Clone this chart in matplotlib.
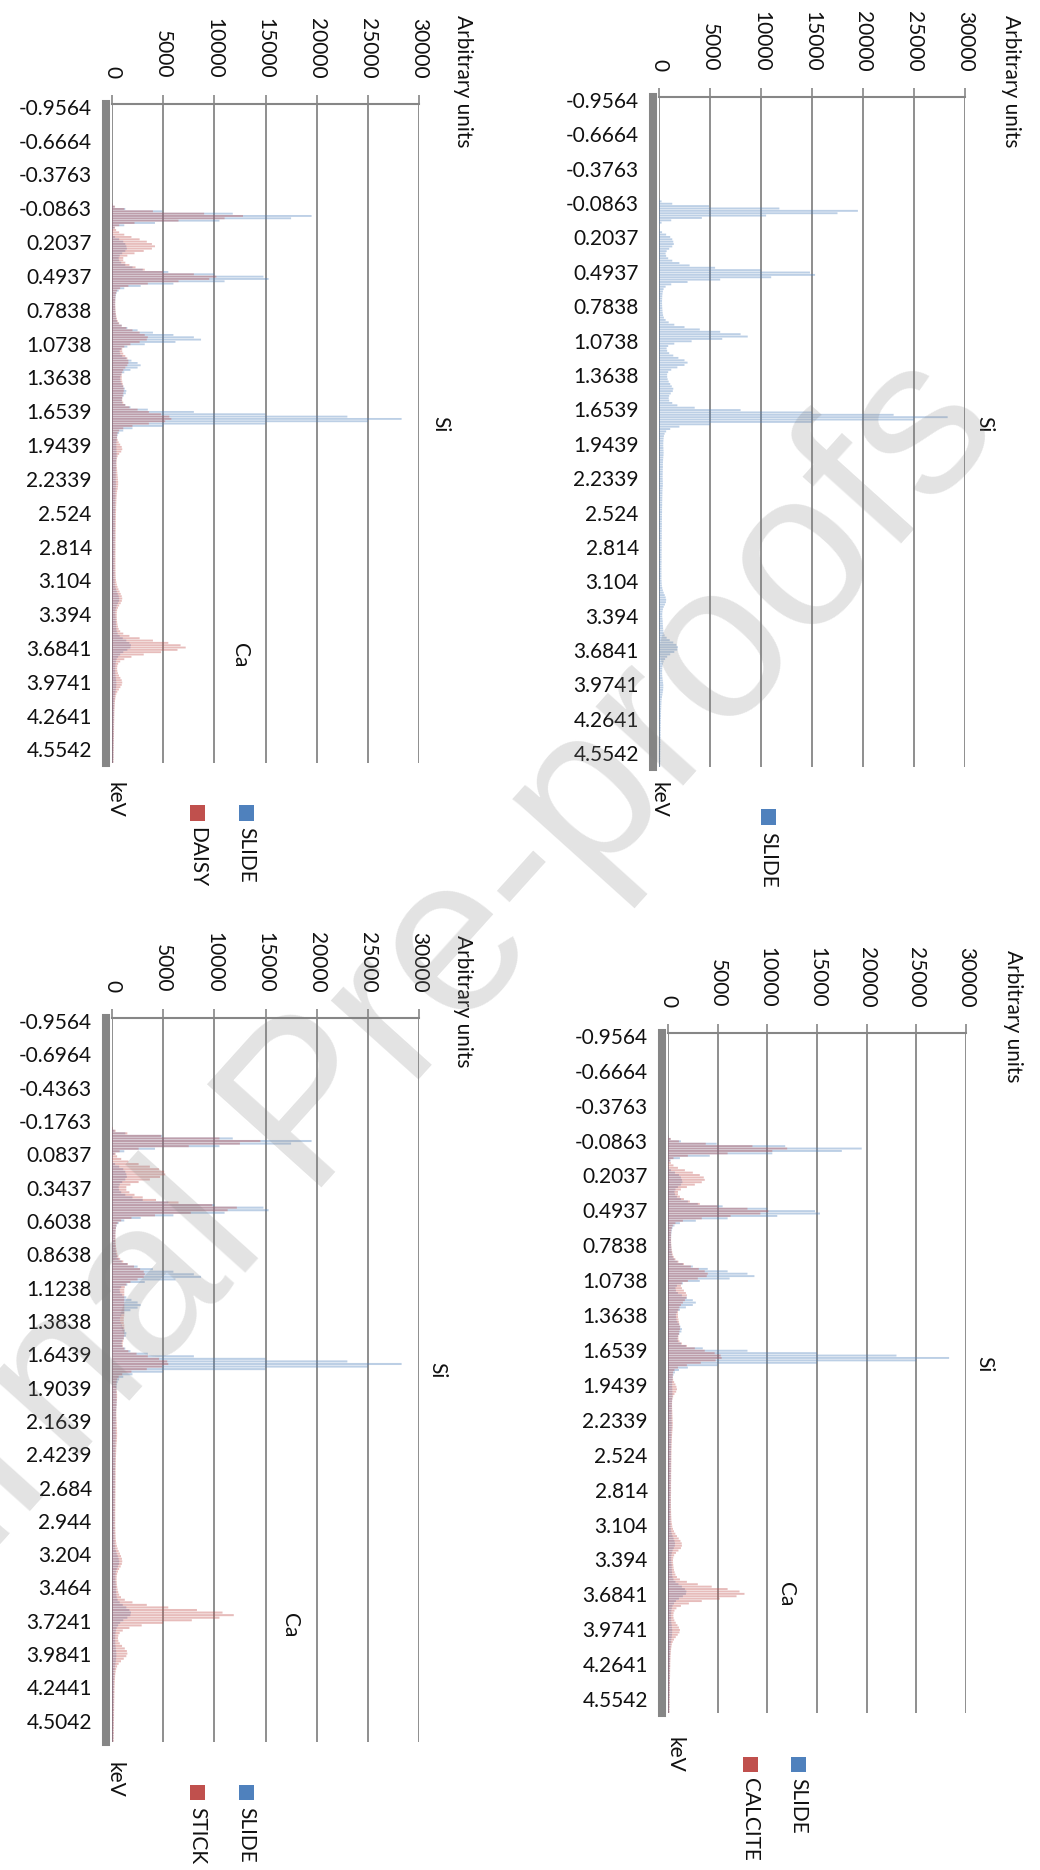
import numpy as np
import matplotlib
matplotlib.use('Agg')
import matplotlib.pyplot as plt
from matplotlib.patches import Rectangle

plt.rcParams['font.family'] = ['Lato', 'DejaVu Sans']

# EDS spectra, one value per 0.02 keV channel starting at -0.16 keV
KEV_START = -0.16
KEV_STEP = 0.02

slide = [
    0, 0, 30, 250, 1300, 4900, 11800, 19500, 17500, 10500,
    4200, 1200, 250, 60, 50, 80, 300, 700, 1100, 1300,
    1400, 1450, 1300, 1000, 750, 650, 700, 900, 1300, 2000,
    3000, 5500, 10000, 14800, 15300, 11000, 6000, 2800, 1200, 650,
    450, 380, 340, 320, 310, 300, 300, 310, 320, 340,
    360, 400, 480, 650, 950, 1500, 2500, 4000, 6000, 8000,
    8700, 6200, 3200, 1500, 900, 750, 800, 1000, 1400, 1900,
    2500, 2800, 2500, 1800, 1200, 900, 800, 800, 850, 950,
    1100, 1250, 1400, 1350, 1150, 1000, 950, 1000, 1300, 1800,
    3500, 8000, 15000, 23000, 28300, 25000, 15000, 5000, 2000, 1100,
    700, 550, 480, 450, 430, 420, 420, 430, 440, 450,
    440, 420, 400, 390, 380, 380, 370, 370, 360, 360,
    360, 370, 380, 370, 350, 340, 330, 330, 320, 320,
    310, 310, 300, 300, 300, 290, 290, 290, 280, 280,
    280, 280, 270, 270, 270, 270, 260, 260, 260, 260,
    260, 250, 250, 250, 250, 250, 240, 240, 240, 240,
    240, 240, 240, 250, 260, 280, 320, 380, 460, 560,
    650, 700, 680, 580, 460, 380, 340, 320, 320, 340,
    360, 370, 380, 400, 420, 450, 550, 750, 1050, 1400,
    1700, 1850, 1800, 1500, 1100, 800, 600, 450, 380, 340,
    320, 310, 310, 320, 340, 370, 400, 420, 420, 400,
    370, 330, 290, 260, 240, 230, 220, 210, 200, 200,
    190, 190, 180, 180, 170, 170, 170, 160, 160, 160,
    150, 150, 150, 140, 140, 140, 130, 130, 130, 130,
    120, 120,
]

daisy = [
    0, 0, 50, 300, 1200, 4000, 9000, 12800, 11000, 6500,
    2200, 700, 300, 400, 700, 1200, 1900, 2700, 3400, 3900,
    4200, 3900, 3100, 2200, 1500, 1100, 1100, 1300, 1700, 2300,
    3200, 5000, 8000, 10200, 9500, 6500, 3500, 1600, 800, 500,
    400, 350, 330, 320, 320, 320, 330, 340, 360, 380,
    420, 480, 560, 700, 950, 1400, 2000, 2700, 3200, 3500,
    3400, 2700, 1800, 1200, 1000, 1000, 1100, 1300, 1500, 1600,
    1600, 1500, 1300, 1100, 1000, 950, 950, 950, 1000, 1050,
    1100, 1150, 1150, 1100, 1050, 1000, 1000, 1100, 1300, 1700,
    2500, 3600, 4800, 5600, 5800, 5200, 3600, 2000, 1100, 700,
    550, 500, 500, 550, 650, 800, 950, 1000, 900, 700,
    550, 480, 450, 450, 460, 480, 500, 520, 540, 560,
    580, 600, 600, 580, 550, 500, 470, 450, 440, 430,
    420, 410, 400, 400, 390, 390, 380, 380, 380, 370,
    370, 370, 360, 360, 360, 360, 350, 350, 350, 350,
    350, 340, 340, 340, 340, 340, 340, 340, 340, 350,
    350, 360, 370, 390, 420, 470, 540, 630, 740, 850,
    950, 1000, 960, 850, 700, 580, 500, 470, 460, 470,
    480, 500, 530, 580, 650, 800, 1100, 1700, 2700, 4000,
    5500, 6700, 7200, 6400, 4800, 3100, 1900, 1200, 800, 600,
    520, 500, 520, 580, 680, 820, 950, 1000, 950, 820,
    670, 520, 420, 360, 320, 290, 270, 260, 250, 240,
    230, 230, 220, 220, 210, 210, 200, 200, 200, 190,
    190, 190, 180, 180, 180, 170, 170, 170, 160, 160,
    160, 150,
]

calcite = [
    0, 0, 40, 280, 1100, 3800, 8500, 12000, 10500, 6000,
    2000, 550, 230, 280, 550, 1000, 1700, 2500, 3200, 3600,
    3700, 3400, 2700, 1900, 1300, 1000, 1000, 1200, 1600, 2200,
    3200, 5000, 8000, 10100, 9300, 6300, 3400, 1500, 750, 480,
    380, 340, 320, 310, 310, 310, 320, 330, 350, 380,
    420, 480, 580, 750, 1050, 1600, 2300, 3100, 3700, 4000,
    3900, 3000, 2000, 1400, 1300, 1400, 1600, 1800, 1900, 1850,
    1700, 1500, 1300, 1150, 1050, 1000, 1000, 1000, 1050, 1100,
    1150, 1200, 1200, 1150, 1100, 1050, 1050, 1150, 1400, 1900,
    2700, 3700, 4700, 5300, 5400, 4800, 3300, 1900, 1000, 650,
    520, 480, 480, 520, 620, 750, 850, 900, 820, 650,
    520, 450, 420, 410, 410, 420, 430, 440, 450, 460,
    470, 480, 480, 470, 450, 430, 410, 400, 390, 380,
    370, 360, 360, 350, 350, 340, 340, 340, 330, 330,
    330, 330, 320, 320, 320, 320, 310, 310, 310, 310,
    310, 300, 300, 300, 300, 300, 300, 310, 310, 320,
    330, 340, 360, 390, 430, 500, 600, 740, 900, 1080,
    1250, 1380, 1400, 1300, 1050, 800, 620, 530, 500, 510,
    530, 560, 600, 660, 750, 900, 1200, 1900, 3000, 4400,
    6000, 7200, 7700, 6900, 5200, 3400, 2100, 1300, 850, 650,
    560, 540, 560, 640, 780, 950, 1100, 1200, 1150, 980,
    780, 600, 470, 390, 340, 310, 290, 270, 260, 250,
    240, 230, 230, 220, 220, 210, 210, 200, 200, 200,
    190, 190, 190, 180, 180, 180, 170, 170, 170, 160,
    160, 160,
]

stick = [
    0, 0, 60, 350, 1500, 4800, 10500, 14500, 12500, 7500,
    2600, 750, 350, 500, 900, 1600, 2600, 3700, 4600, 5100,
    5200, 4700, 3700, 2600, 1800, 1400, 1400, 1700, 2200, 3000,
    4300, 6500, 9800, 12200, 11300, 7700, 4200, 1900, 900, 550,
    420, 380, 360, 350, 350, 350, 360, 370, 390, 420,
    460, 520, 620, 800, 1100, 1550, 2150, 2750, 3100, 3200,
    3100, 2500, 1800, 1400, 1250, 1200, 1200, 1200, 1200, 1200,
    1200, 1200, 1200, 1200, 1200, 1200, 1150, 1150, 1150, 1200,
    1200, 1200, 1200, 1200, 1150, 1100, 1050, 1050, 1200, 1600,
    2400, 3500, 4600, 5400, 5500, 4900, 3400, 1900, 1000, 650,
    500, 450, 430, 430, 450, 480, 500, 500, 480, 460,
    450, 440, 430, 430, 430, 440, 450, 460, 470, 480,
    490, 500, 500, 490, 470, 450, 430, 420, 410, 400,
    390, 380, 380, 370, 370, 360, 360, 360, 350, 350,
    350, 350, 340, 340, 340, 340, 330, 330, 330, 330,
    330, 320, 320, 320, 320, 320, 320, 320, 330, 330,
    340, 350, 360, 390, 420, 470, 550, 650, 770, 880,
    970, 1000, 960, 850, 700, 580, 500, 460, 450, 460,
    480, 510, 550, 610, 700, 880, 1250, 2000, 3400, 5500,
    8300, 10800, 11900, 10500, 7800, 5000, 2900, 1700, 1050, 750,
    620, 580, 620, 760, 980, 1250, 1450, 1500, 1400, 1150,
    880, 650, 500, 410, 360, 320, 300, 280, 270, 260,
    250, 240, 240, 230, 230, 220, 220, 210, 210, 210,
    200, 200, 200, 190, 190, 190, 180, 180, 180, 170,
    170, 170,
]

kev_ticks_a = ['-0.9564', '-0.6664', '-0.3763', '-0.0863', '0.2037', '0.4937',
               '0.7838', '1.0738', '1.3638', '1.6539', '1.9439', '2.2339',
               '2.524', '2.814', '3.104', '3.394', '3.6841', '3.9741',
               '4.2641', '4.5542']
kev_ticks_b = ['-0.9564', '-0.6964', '-0.4363', '-0.1763', '0.0837', '0.3437',
               '0.6038', '0.8638', '1.1238', '1.3838', '1.6439', '1.9039',
               '2.1639', '2.4239', '2.684', '2.944', '3.204', '3.464',
               '3.7241', '3.9841', '4.2441', '4.5042']
value_ticks = [0, 5000, 10000, 15000, 20000, 25000, 30000]

kev = KEV_START + KEV_STEP * np.arange(len(slide))

BLUE = '#4f81bd'
RED = '#c0504d'
GRID = '#868686'
TXT = '#111111'
W, H = 1040, 1870

fig = plt.figure(figsize=(W / 100, H / 100), dpi=100)


def fx(x):
    return x / W


def fy(y):
    return 1 - y / H


def panel(box, series, cat_labels):
    x0, y0, x1, y1 = box
    ax = fig.add_axes([fx(x0), fy(y1), (x1 - x0) / W, (y1 - y0) / H])
    for vals, col in series:
        ax.barh(kev, vals, height=0.016, color=col, alpha=0.38,
                linewidth=0, snap=False)
    ax.set_xlim(0, 30000)
    ax.set_ylim(4.67, -0.98)
    ax.xaxis.tick_top()
    ax.set_xticks(value_ticks)
    ax.set_xticklabels([str(v) for v in value_ticks], rotation=-90)
    ax.tick_params(axis='x', direction='out', length=6.5, width=1.2,
                   color=GRID, pad=12, labelsize=15, labelcolor=TXT)
    ax.set_yticks([float(t) for t in cat_labels])
    ax.set_yticklabels(cat_labels)
    ax.tick_params(axis='y', length=0, pad=10.5, labelsize=15, labelcolor=TXT)
    ax.grid(axis='x', color=GRID, linewidth=1.3)
    ax.set_axisbelow(True)
    for s in ['right', 'bottom']:
        ax.spines[s].set_visible(False)
    ax.spines['top'].set_color(GRID)
    ax.spines['top'].set_linewidth(1.5)
    ax.spines['left'].set_color(GRID)
    ax.spines['left'].set_linewidth(5.8)
    ax.spines['left'].set_position(('outward', 4))
    return ax


def label(x, y, s, va='center'):
    fig.text(fx(x), fy(y), s, rotation=-90, ha='center', va=va,
             fontsize=15, color=TXT)


def legend_entry(x, y, y_text, s, col):
    fig.add_artist(Rectangle((fx(x - 7.5), fy(y + 7.5)), 15 / W, 15 / H,
                             transform=fig.transFigure, color=col, lw=0))
    label(x, y_text, s, va='top')


# top left: SLIDE vs DAISY
panel((112, 104, 419, 763), [(slide, BLUE), (daisy, RED)], kev_ticks_a)
label(463, 15, 'Arbitrary units', va='top')
label(115, 782, 'keV', va='top')
label(440, 424, 'Si')
label(240, 655, 'Ca')
legend_entry(246, 813, 827, 'SLIDE', BLUE)
legend_entry(197, 813, 827, 'DAISY', RED)

# top right: SLIDE only
panel((659, 97, 965, 767), [(slide, BLUE)], kev_ticks_a)
label(1011, 15, 'Arbitrary units', va='top')
label(658, 782, 'keV', va='top')
label(984, 424, 'Si')
legend_entry(768, 817, 832, 'SLIDE', BLUE)

# bottom left: SLIDE vs STICK
panel((112, 1018, 419, 1742), [(slide, BLUE), (stick, RED)], kev_ticks_b)
label(463, 935, 'Arbitrary units', va='top')
label(115, 1762, 'keV', va='top')
label(437, 1370, 'Si')
label(290, 1625, 'Ca')
legend_entry(246, 1792, 1807, 'SLIDE', BLUE)
legend_entry(197, 1792, 1807, 'STICK', RED)

# bottom right: SLIDE vs CALCITE
panel((668, 1033, 966, 1713), [(slide, BLUE), (calcite, RED)], kev_ticks_a)
label(1013, 950, 'Arbitrary units', va='top')
label(674, 1737, 'keV', va='top')
label(984, 1364, 'Si')
label(786, 1594, 'Ca')
legend_entry(798, 1764, 1778, 'SLIDE', BLUE)
legend_entry(750, 1764, 1778, 'CALCITE', RED)

# watermark
fig.text(fx(350), fy(1070), 'Journal Pre-proofs', rotation=48, fontsize=160,
         color='#808080', alpha=0.22, ha='center', va='center',
         family='Liberation Sans', zorder=100)

fig.savefig('out.png', dpi=100)
